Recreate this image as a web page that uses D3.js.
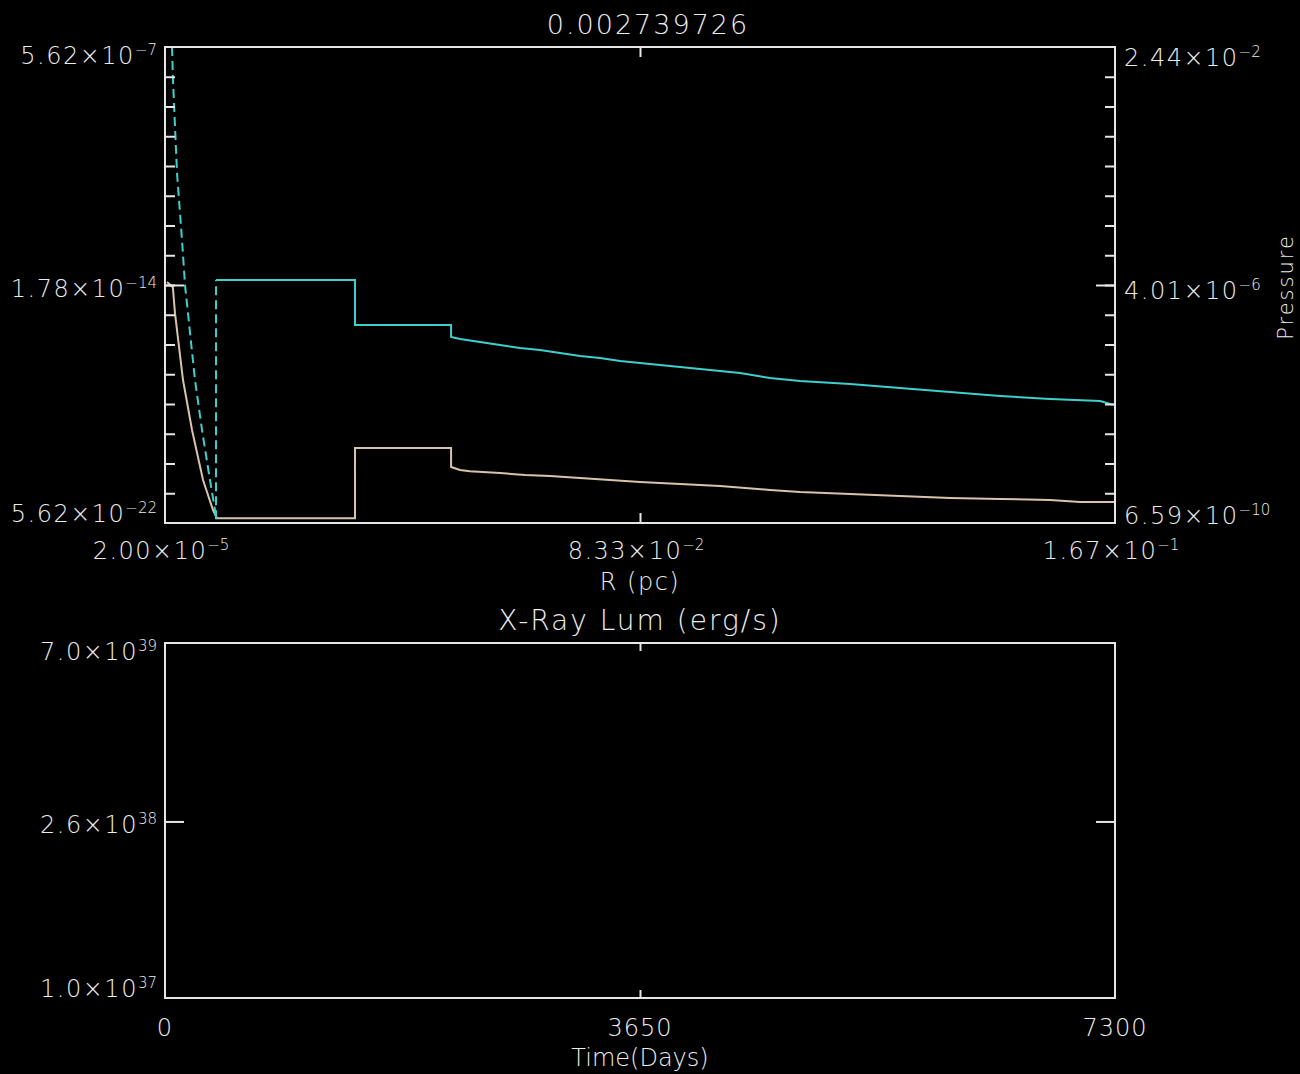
<!DOCTYPE html>
<html>
<head>
<meta charset="utf-8">
<style>
  body { margin: 0; background: #000; }
  svg { display: block; background: #000; }
  text { fill: #ececec; font-family: "DejaVu Sans", sans-serif; font-weight: 200; }
  .frame { fill: none; stroke: #e6e6e6; stroke-width: 2; }
  .tick line { stroke: #e6e6e6; stroke-width: 2; }
  .domain { display: none; }
  .line { fill: none; stroke-width: 2; }
</style>
</head>
<body>
<svg id="chart" width="1300" height="1074"></svg>
<script src="https://d3js.org/d3.v7.min.js"></script>
<script>
    // ---- data ----
    const title = "0.002739726";

    // top panel ticks
    const rTicks = [2.0e-5, 0.083335, 0.16665];
    const densTicks = [5.62e-22, 1.78e-14, 5.62e-7];
    const pressTicks = [6.59e-10, 4.01e-6, 2.44e-2];

    // density (tan, left axis)
    const densR = [3.7e-4, 1.4e-3, 1.77e-3, 3.18e-3, 4.76e-3, 6.69e-3, 8.44e-3, 9.14e-3,
        0.03335, 0.03335, 0.0502, 0.0502, 0.05177, 0.0535, 0.05879, 0.06317, 0.06756,
        0.07282, 0.07808, 0.08334, 0.09036, 0.09738, 0.10615, 0.1114, 0.1202, 0.12895,
        0.13772, 0.1465, 0.15527, 0.16053, 0.16665];
    const dens = [2.2e-14, 1.5e-14, 2.3e-15, 1.8e-17, 4.8e-19, 1.27e-20, 1.44e-21, 8.0e-22,
        8.0e-22, 1.3e-19, 1.3e-19, 3.27e-20, 2.63e-20, 2.4e-20, 2.11e-20, 1.83e-20, 1.70e-20,
        1.47e-20, 1.27e-20, 1.10e-20, 9.52e-21, 8.24e-21, 6.17e-21, 5.33e-21, 4.61e-21, 3.99e-21,
        3.45e-21, 3.21e-21, 2.98e-21, 2.58e-21, 2.58e-21];

    // pressure (cyan, right axis): inner steep part, then the rest
    const pressInnerR = [1.25e-3, 1.42e-3, 2.13e-3, 3.0e-3, 3.53e-3, 5.28e-3, 6.51e-3, 7.91e-3,
        8.79e-3, 8.97e-3, 8.97e-3];
    const pressInner = [2.44e-2, 7.3e-3, 2.4e-4, 2.1e-5, 4.0e-6, 1.24e-7, 1.99e-8, 3.18e-9,
        1.06e-9, 7.4e-10, 4.8e-6];
    const pressR = [8.97e-3, 0.03335, 0.03335, 0.0502, 0.0502, 0.05177, 0.05528, 0.05879,
        0.06229, 0.0658, 0.06931, 0.07282, 0.07633, 0.07984, 0.08334, 0.08685, 0.09036, 0.09387,
        0.09738, 0.10089, 0.10615, 0.1114, 0.1202, 0.12895, 0.13772, 0.1465, 0.15527, 0.16404,
        0.16579, 0.16665];
    const press = [4.8e-6, 4.8e-6, 9.3e-7, 9.3e-7, 5.98e-7, 5.56e-7, 4.98e-7, 4.46e-7, 4.0e-7,
        3.72e-7, 3.33e-7, 2.98e-7, 2.77e-7, 2.48e-7, 2.31e-7, 2.14e-7, 1.99e-7, 1.85e-7, 1.72e-7,
        1.6e-7, 1.33e-7, 1.19e-7, 1.07e-7, 9.24e-8, 7.98e-8, 6.9e-8, 6.18e-8, 5.74e-8, 5.14e-8,
        5.0e-8];

    // bottom panel (empty)
    const timeTicks = [0, 3650, 7300];
    const lumTicks = [1.0e37, 2.6e38, 7.0e39];

    // ---- layout ----
    let svg = d3.select("#chart");
    let topBox = { x0: 165, x1: 1115, y0: 47, y1: 523 };
    let botBox = { x0: 165, x1: 1115, y0: 643, y1: 998 };
    const labelShift = [-9, 4, 9];

    let x = d3.scaleLinear().domain([rTicks[0], rTicks[2]]).range([topBox.x0, topBox.x1]);
    let yL = d3.scaleLog().domain([densTicks[0], densTicks[2]]).range([topBox.y1, topBox.y0]);
    let yR = d3.scaleLog().domain([pressTicks[0], pressTicks[2]]).range([topBox.y1, topBox.y0]);

    let xB = d3.scaleLinear().domain([timeTicks[0], timeTicks[2]]).range([botBox.x0, botBox.x1]);
    let yB = d3.scaleLog().domain([lumTicks[0], lumTicks[2]]).range([botBox.y1, botBox.y0]);

    function minorTicks(scale, n) {
        let [a, b] = scale.domain().map(Math.log10);
        return d3.range(1, n).map((i) => Math.pow(10, a + (b - a) * i / n));
    }

    function sciLabel(g, v, digits, x0, y0, anchor) {
        let [m, e] = d3.format("." + digits + "e")(v).split("e");
        let t = g.append("text")
            .attr("x", x0).attr("y", y0)
            .attr("font-size", 24)
            .attr("letter-spacing", 1.5)
            .attr("text-anchor", anchor);
        t.append("tspan").text(m + "×10");
        t.append("tspan").attr("dy", -9).attr("font-size", 15).attr("letter-spacing", 0)
            .text(e.replace("+", "").replace("-", "−"));
    }

    function addAxis(axis, tx, ty) {
        svg.append("g").attr("transform", `translate(${tx},${ty})`).call(axis);
    }

    // ---- top panel ----
    svg.append("defs").append("clipPath").attr("id", "clipTop")
        .append("rect").attr("x", topBox.x0).attr("y", topBox.y0)
        .attr("width", topBox.x1 - topBox.x0).attr("height", topBox.y1 - topBox.y0);

    let plot = svg.append("g").attr("clip-path", "url(#clipTop)");
    let lineL = d3.line().x((d) => x(d[0])).y((d) => yL(d[1]));
    let lineR = d3.line().x((d) => x(d[0])).y((d) => yR(d[1]));

    plot.append("path").attr("class", "line").attr("stroke", "#d9c3aa")
        .attr("d", lineL(d3.zip(densR, dens)));
    plot.append("path").attr("class", "line").attr("stroke", "#3ecfcf")
        .attr("stroke-dasharray", "9,5")
        .attr("d", lineR(d3.zip(pressInnerR, pressInner)));
    plot.append("path").attr("class", "line").attr("stroke", "#3ecfcf")
        .attr("d", lineR(d3.zip(pressR, press)));

    // ticks
    addAxis(d3.axisLeft(yL).tickValues(densTicks.slice(1, 2)).tickSize(-19).tickFormat(""), topBox.x0, 0);
    addAxis(d3.axisLeft(yL).tickValues(minorTicks(yL, 16)).tickSize(-10).tickFormat(""), topBox.x0, 0);
    addAxis(d3.axisRight(yR).tickValues(pressTicks.slice(1, 2)).tickSize(-19).tickFormat(""), topBox.x1, 0);
    addAxis(d3.axisRight(yR).tickValues(minorTicks(yR, 16)).tickSize(-10).tickFormat(""), topBox.x1, 0);
    addAxis(d3.axisBottom(x).tickValues(rTicks.slice(1, 2)).tickSize(-10).tickFormat(""), 0, topBox.y1);
    addAxis(d3.axisTop(x).tickValues(rTicks.slice(1, 2)).tickSize(-10).tickFormat(""), 0, topBox.y0);

    svg.append("rect").attr("class", "frame")
        .attr("x", topBox.x0).attr("y", topBox.y0)
        .attr("width", topBox.x1 - topBox.x0).attr("height", topBox.y1 - topBox.y0);

    let labels = svg.append("g");
    densTicks.forEach((v, i) => sciLabel(labels, v, 2, 157, yL(v) + labelShift[i] + 8, "end"));
    pressTicks.forEach((v, i) => sciLabel(labels, v, 2, 1124, yR(v) + labelShift[i] + 10, "start"));
    rTicks.forEach((v) => sciLabel(labels, v, 2, x(v) - 4, 559, "middle"));

    labels.append("text").attr("x", 648).attr("y", 34).attr("font-size", 27)
        .attr("letter-spacing", 2).attr("text-anchor", "middle").text(title);
    labels.append("text").attr("x", 640).attr("y", 590).attr("font-size", 24)
        .attr("letter-spacing", 1.5).attr("text-anchor", "middle").text("R (pc)");
    labels.append("text").attr("transform", "translate(1293,287) rotate(-90)")
        .attr("font-size", 21).attr("letter-spacing", 2).attr("text-anchor", "middle").text("Pressure");

    // ---- bottom panel ----
    labels.append("text").attr("x", 640).attr("y", 630).attr("font-size", 28)
        .attr("letter-spacing", 2).attr("text-anchor", "middle").text("X-Ray Lum (erg/s)");

    addAxis(d3.axisLeft(yB).tickValues(lumTicks.slice(1, 2)).tickSize(-19).tickFormat(""), botBox.x0, 0);
    addAxis(d3.axisRight(yB).tickValues(lumTicks.slice(1, 2)).tickSize(-19).tickFormat(""), botBox.x1, 0);
    addAxis(d3.axisBottom(xB).tickValues(timeTicks.slice(1, 2)).tickSize(-8).tickFormat(""), 0, botBox.y1);
    addAxis(d3.axisTop(xB).tickValues(timeTicks.slice(1, 2)).tickSize(-8).tickFormat(""), 0, botBox.y0);

    svg.append("rect").attr("class", "frame")
        .attr("x", botBox.x0).attr("y", botBox.y0)
        .attr("width", botBox.x1 - botBox.x0).attr("height", botBox.y1 - botBox.y0);

    lumTicks.forEach((v, i) => sciLabel(labels, v, 1, 157, yB(v) + labelShift[i] + 8, "end"));
    timeTicks.forEach((v) => {
        labels.append("text").attr("x", xB(v)).attr("y", 1036).attr("font-size", 24)
            .attr("letter-spacing", 1).attr("text-anchor", "middle").text(v);
    });
    labels.append("text").attr("x", 640).attr("y", 1066).attr("font-size", 24)
        .attr("text-anchor", "middle").text("Time(Days)");
</script>
</body>
</html>
